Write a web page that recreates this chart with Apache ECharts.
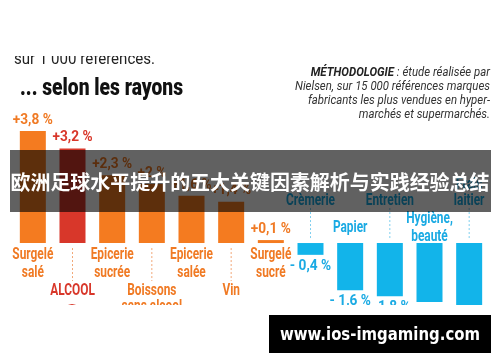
<!DOCTYPE html>
<html><head><meta charset="utf-8">
<script src="https://cdn.jsdelivr.net/npm/echarts@6/dist/echarts.min.js"></script>
<style>html,body{margin:0;padding:0;background:#fff}#c{width:500px;height:362px}</style>
</head><body><div id="c"></div>
<script>
// ---- data ----
const categories = ['Surgelé\nsalé','ALCOOL','Epicerie\nsucrée','Boissons\nsans alcool','Epicerie\nsalée','Vin','Surgelé\nsucré','Crèmerie','Papier','Entretien','Hygiène,\nbeauté','Frais\nlaitier'];
const values = [3.8, 3.2, 2.3, 2, 1.6, 1.4, 0.1, -0.4, -1.6, -1.8, -2.0, -2.6];
const highlightCategory = 'ALCOOL';
const introText = 'sur 1 000 références.';
const titleText = '... selon les rayons';
const methodHead = 'MÉTHODOLOGIE';
const methodLines = [' : étude réalisée par', 'Nielsen, sur 15 000 références marques', 'fabricants les plus vendues en hyper-', 'marchés et supermarchés.'];
const bannerText = '欧洲足球水平提升的五大关键因素解析与实践经验总结';
const urlText = 'www.ios-imgaming.com';

// ---- styles ----
const ORANGE = '#F47B20', RED = '#D8372A', BLUE = '#12B4EA';
const ORANGE_TXT = '#F07A24', BLUE_TXT = '#1AAAE3';
const FAM = 'Roboto, "Liberation Sans", sans-serif';
const ctx = document.createElement('canvas').getContext('2d');
function measure(t, font){ ctx.font = font; return ctx.measureText(t).width; }
function fit(t, font, w){ return w / measure(t, font); }

const VAL_FONT = 'bold 15px ' + FAM;
const CAT_FONT = 'bold 17px ' + FAM;
const valScale = fit('+3,8 %', VAL_FONT, 40);
const catScale = fit('Surgelé', CAT_FONT, 41);

function barColor(i){ if (categories[i] === highlightCategory) return RED; return values[i] >= 0 ? ORANGE : BLUE; }
function txtColor(i){ if (categories[i] === highlightCategory) return RED; return values[i] >= 0 ? ORANGE_TXT : BLUE_TXT; }
function fmt(v){ const s = String(Math.abs(v)).replace('.', ','); return (v >= 0 ? '+' : '- ') + s + ' %'; }

function txt(x, y, text, font, fill, align, valign, scale, lh){
  return {type:'text', x:x, y:y, scaleX:scale, style:{text:text, font:font, fill:fill, align:align, textAlign:align, verticalAlign:valign, textVerticalAlign:valign, lineHeight:lh||18}};
}

function renderItem(params, api){
  const i = api.value(0), v = api.value(1);
  const base = api.coord([i, 0]), end = api.coord([i, v]);
  const cx = base[0], zy = base[1];
  const col = txtColor(i);
  const ch = [];
  if (v >= 0) {
    ch.push(txt(cx, end[1] - 3, fmt(v), VAL_FONT, col, 'center', 'bottom', valScale, 16));
    if (i % 2 === 0) {
      ch.push(txt(cx, zy + 3, categories[i], CAT_FONT, col, 'center', 'top', catScale, 18));
    } else {
      ch.push({type:'line', shape:{x1:cx, y1:zy + 5, x2:cx, y2:zy + 38}, style:{stroke:'#F2A878', lineWidth:1, lineDash:[2,2]}});
      ch.push(txt(cx, zy + 40, categories[i], CAT_FONT, col, 'center', 'top', catScale, 16));
    }
  } else {
    ch.push(txt(cx, end[1] + 3, fmt(v), VAL_FONT, BLUE_TXT, 'center', 'top', valScale, 16));
    if (i % 2 === 0) {
      ch.push(txt(cx, zy - 15, categories[i], CAT_FONT, BLUE_TXT, 'center', 'middle', catScale, 18));
    } else {
      ch.push({type:'line', shape:{x1:cx, y1:zy - 5, x2:cx, y2:zy - 36}, style:{stroke:'#7FCFEF', lineWidth:1, lineDash:[2,2]}});
      ch.push(txt(cx, zy - 34, categories[i], CAT_FONT, BLUE_TXT, 'center', 'bottom', catScale, 16));
    }
  }
  return {type:'group', children:ch};
}

const chart = echarts.init(document.getElementById('c'), null, {renderer:'canvas'});
const methFont = 'italic 13px ' + FAM;
const methScale = fit(methodLines[1], methFont, 195);
const introFont = '16px ' + FAM;
const titleFont = '900 24px ' + FAM;
const urlFont = 'bold 18px "DejaVu Sans", sans-serif';
const bannerFont = 'bold 20px "Noto Sans CJK SC", sans-serif';

const graphics = [
  txt(14, 60, introText, introFont, '#222', 'left', 'middle', fit(introText, introFont, 141), 18),
  {type:'rect', z:50, shape:{x:0, y:0, width:500, height:56}, style:{fill:'#fff'}},
  txt(20, 89, titleText, titleFont, '#111', 'left', 'middle', fit(titleText, titleFont, 163), 24),
  {type:'text', x:490, y:73, scaleX:methScale, style:{text:'{b|' + methodHead + '}' + methodLines[0], font:methFont, fill:'#333', align:'right', textAlign:'right', verticalAlign:'middle', textVerticalAlign:'middle', rich:{b:{font:'bold italic 13px ' + FAM, fill:'#222'}}}},
  txt(490, 87, methodLines[1], methFont, '#333', 'right', 'middle', methScale, 14),
  txt(490, 101, methodLines[2], methFont, '#333', 'right', 'middle', methScale, 14),
  txt(490, 115, methodLines[3], methFont, '#333', 'right', 'middle', methScale, 14),
  {type:'circle', z:40, shape:{cx:72, cy:313, r:9}, style:{fill:RED}},
  {type:'rect', z:50, shape:{x:0, y:305, width:500, height:57}, style:{fill:'#fff'}},
  {type:'rect', z:60, shape:{x:10, y:150, width:481, height:62}, style:{fill:'rgba(0,0,0,0.62)'}},
  Object.assign(txt(250, 182, bannerText, bannerFont, '#fff', 'center', 'middle', fit(bannerText, bannerFont, 479), 24), {z:61}),
  {type:'rect', z:60, shape:{x:269, y:315, width:222, height:38}, style:{fill:'#000'}},
  Object.assign(txt(380, 335, urlText, urlFont, '#fff', 'center', 'middle', fit(urlText, urlFont, 200), 20), {z:61})
];
graphics.forEach(g => { if (g.z === undefined) g.z = 45; });

chart.setOption({
  animation:false,
  backgroundColor:'#fff',
  grid:{left:13, right:11, top:125, bottom:57},
  xAxis:{type:'category', data:categories, show:false},
  yAxis:{type:'value', min:-2.1, max:4, show:false},
  series:[
    {type:'bar', data:values.map((v,i)=>({value:v, itemStyle:{color:barColor(i)}})), barWidth:26, clip:true, z:2},
    {type:'custom', data:values.map((v,i)=>[i,v]), encode:{x:0, y:1}, renderItem:renderItem, z:3}
  ],
  graphic:{elements:graphics}
});
</script>
</body></html>
